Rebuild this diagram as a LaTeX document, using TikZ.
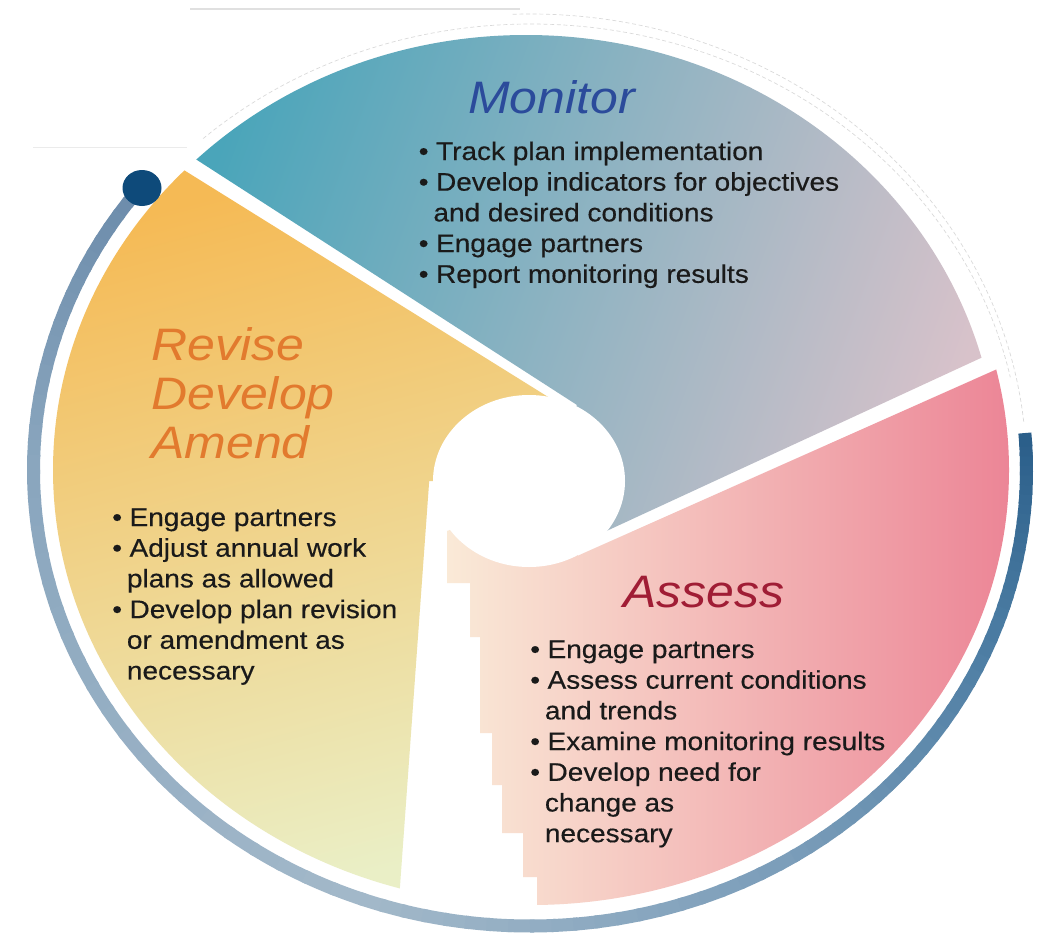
\documentclass[tikz,border=0pt]{standalone}
\usepackage{graphicx}
\usepackage{fontspec}
\setmainfont{Liberation Sans}
\newfontfamily\bodyff{Liberation Sans}[FakeBold=0.35]
\definecolor{monA}{HTML}{4AA5BA}
\definecolor{monM}{HTML}{90B6C3}
\definecolor{monB}{HTML}{D8C2CA}
\definecolor{revA}{HTML}{F5BA55}
\definecolor{revM}{HTML}{F6C970}
\definecolor{revB}{HTML}{EAEFC6}
\definecolor{asA}{HTML}{FAEBD8}
\definecolor{asM}{HTML}{F3C4BA}
\definecolor{asB}{HTML}{EC8596}
\definecolor{ringA}{HTML}{6C8CAB}
\definecolor{ringB}{HTML}{8AA6BE}
\definecolor{ringC}{HTML}{A2B8C9}
\definecolor{ringD}{HTML}{7C9EBA}
\definecolor{ringE}{HTML}{4A7BA2}
\definecolor{ringF}{HTML}{2B5F8A}
\definecolor{dotc}{HTML}{0E4A7A}
\definecolor{txtc}{HTML}{1A1A1A}
\definecolor{monT}{HTML}{2B4B9B}
\definecolor{revT}{HTML}{E27A2E}
\definecolor{asT}{HTML}{A01D35}
\newcommand\bu{\makebox[13pt][l]{•}}
\newcommand\cont{\hspace*{11pt}}
\newcommand\bodyfont{\bodyff\fontsize{21}{25.3}\selectfont}
\newcommand\ringpart[4]{%
  \foreach \k in {0,...,19}{%
    \pgfmathsetmacro\ringta{#1+(#2-#1)*\k/20}%
    \pgfmathsetmacro\ringtb{#1+(#2-#1)*(\k+1)/20-0.5}%
    \pgfmathsetmacro\ringpc{100-100*\k/19}%
    \draw[ringline, draw=#3!\ringpc!#4] (rc) ++(\ringta:496.5 and 456)
      arc[start angle=\ringta, end angle=\ringtb, x radius=496.5, y radius=456];
  }%
}
\begin{document}
\begin{tikzpicture}[x=0.75pt,y=-0.75pt,
  txt/.style={inner sep=0pt, anchor=base west, text=txtc, font=\bodyfont},
  ttl/.style={inner sep=0pt, anchor=base west, font=\fontsize{37.5}{40}\selectfont\itshape},
  ringline/.style={line width=9.75pt, line cap=butt},
  faint/.style={black!15, line width=0.5pt, dash pattern=on 3pt off 2pt}]
\useasboundingbox (0,0) rectangle (1048,935);
\fill[white] (0,0) rectangle (1048,935);
\coordinate (rc) at (530,470);
\coordinate (pc) at (531,470);
% faint leftovers
\draw[black!12, line width=0.8pt] (190,9) -- (520,9);
\draw[black!8, line width=0.6pt] (33,147) -- (187,147);
\draw[faint] (pc) ++(-132:490 and 446) arc[start angle=-132, end angle=-12, x radius=490, y radius=446];
\draw[faint] (rc) ++(-92:496.5 and 456) arc[start angle=-92, end angle=-6, x radius=496.5, y radius=456];
% Monitor wedge
\begin{scope}
  \clip (-100,-31.5) -- (-100,-100) -- (1200,-100) -- (1200,256.7) -- (603,532.6) -- (529,481) -- (577,405) -- cycle;
  \clip (526,473) ellipse[x radius=472, y radius=438];
  \shade[top color=monA, middle color=monM, bottom color=monB, shading angle=70] (150,20) rectangle (1010,560);
\end{scope}
% Revise wedge
\begin{scope}
  \clip (-100,-6.8) -- (545,395) -- (560,404.4) -- (529,481) -- (429.2,481) -- (391.8,1000) -- (-100,1000) -- cycle;
  \clip (pc) ellipse[x radius=478, y radius=435];
  \shade[top color=revA, middle color=revM, bottom color=revB, shading angle=15] (40,160) rectangle (580,900);
\end{scope}
% Assess wedge
\begin{scope}
  \clip (1200,278.8) -- (578,555.6) -- (529,481) -- (458,527) -- (447,531) -- (447,583) -- (470,583) -- (470,637) -- (480,637) -- (480,733) -- (492,733) -- (492,785) -- (502,785) -- (502,833) -- (523,833) -- (523,877) -- (537,877) -- (537,1000) -- (1200,1000) -- cycle;
  \clip (pc) ellipse[x radius=478, y radius=435];
  \shade[left color=asA, middle color=asM, right color=asB] (440,360) rectangle (1012,910);
\end{scope}
% central hole
\fill[white] (529,481) ellipse[x radius=96, y radius=86];
% outer ring
\ringpart{-141.9}{-180}{ringA}{ringB}
\ringpart{-180}{-250}{ringB}{ringC}
\ringpart{-250}{-300}{ringC}{ringD}
\ringpart{-300}{-340}{ringD}{ringE}
\ringpart{-340}{-364.15}{ringE}{ringF}
\fill[dotc] (142,188) ellipse[x radius=19.5, y radius=18];
% titles
\node[ttl, text=monT] (tmon) at (468,113) {\scalebox{1}[0.91]{Monitor}};
\node[ttl, text=revT] (trev1) at (151,360) {\scalebox{1}[0.91]{Revise}};
\node[ttl, text=revT] (trev2) at (151,409) {\scalebox{1}[0.91]{Develop}};
\node[ttl, text=revT] (trev3) at (151,458) {\scalebox{1}[0.91]{Amend}};
\node[ttl, text=asT] (tass) at (623,607) {\scalebox{1}[0.91]{Assess}};
% bullet lists
\node[txt] (lmon) at (418.5,160) {\scalebox{1}[0.91]{\begin{tabular}[t]{@{}l@{}}
\bu Track plan implementation\\
\bu Develop indicators for objectives\\
\cont and desired conditions\\
\bu Engage partners\\
\bu Report monitoring results
\end{tabular}}};
\node[txt] (lrev) at (112,526) {\scalebox{1}[0.91]{\begin{tabular}[t]{@{}l@{}}
\bu Engage partners\\
\bu Adjust annual work\\
\cont plans as allowed\\
\bu Develop plan revision\\
\cont or amendment as\\
\cont necessary
\end{tabular}}};
\node[txt] (lass) at (530,658) {\scalebox{1}[0.91]{\begin{tabular}[t]{@{}l@{}}
\bu Engage partners\\
\bu Assess current conditions\\
\cont and trends\\
\bu Examine monitoring results\\
\bu Develop need for\\
\cont change as\\
\cont necessary
\end{tabular}}};
\end{tikzpicture}
\end{document}
